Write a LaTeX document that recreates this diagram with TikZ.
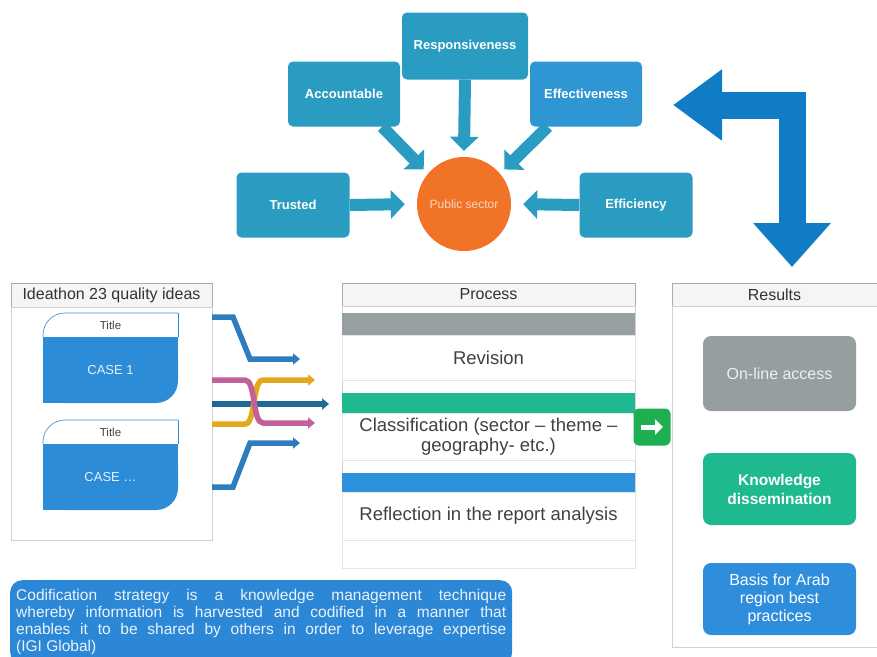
\documentclass[tikz,border=0pt]{standalone}
\usepackage{fontspec}
\setmainfont{Liberation Sans}
\usetikzlibrary{arrows.meta}

\definecolor{topblue}{RGB}{42,156,194}
\definecolor{effblue}{RGB}{47,150,212}
\definecolor{psorange}{RGB}{240,115,40}
\definecolor{pstext}{RGB}{252,215,190}
\definecolor{bigblue}{RGB}{16,124,198}
\definecolor{casefill}{RGB}{45,140,215}
\definecolor{sblue}{RGB}{45,125,190}
\definecolor{spink}{RGB}{195,95,155}
\definecolor{sgold}{RGB}{228,168,26}
\definecolor{sdark}{RGB}{30,105,150}
\definecolor{procgray}{RGB}{150,160,160}
\definecolor{procteal}{RGB}{30,185,145}
\definecolor{procblue}{RGB}{45,145,220}
\definecolor{gobtn}{RGB}{30,175,80}
\definecolor{resgray}{RGB}{150,158,160}
\definecolor{resgreen}{RGB}{30,185,142}
\definecolor{resblue}{RGB}{46,142,220}
\definecolor{noteblue}{RGB}{45,135,215}

\begin{document}
\begin{tikzpicture}[x=1pt,y=-1pt,
  pillar/.style={fill=topblue, rounded corners=5pt, text=white, inner sep=0pt,
    font=\fontsize{13}{15}\selectfont\bfseries, minimum width=112pt, minimum height=65pt},
  feed/.style={draw=topblue, line width=12pt, -{Triangle[length=14pt,width=28pt]}},
  strand/.style={line width=5.5pt, -{Triangle[length=7pt,width=11pt]}},
  head/.style={draw=gray!65, fill=black!4, text=black!80, inner sep=0pt,
    font=\fontsize{16}{18}\selectfont},
  panelbox/.style={draw=gray!35, inner sep=0pt},
  bar/.style={minimum width=293pt, inner sep=0pt},
  cell/.style={draw=gray!20, minimum width=293pt, inner sep=0pt, align=center,
    text=black!75, font=\fontsize{18.5}{20}\selectfont},
  outcome/.style={rounded corners=8pt, minimum width=153pt, inner sep=0pt,
    align=center, font=\fontsize{16}{18}\selectfont}
]
\useasboundingbox (0,0) rectangle (877,656);

% governance boxes
\node[pillar, minimum width=126pt, minimum height=67pt] (resp) at (465,46) {Responsiveness};
\node[pillar] (acc) at (344,94) {Accountable};
\node[pillar, fill=effblue] (eff) at (586,94) {Effectiveness};
\node[pillar, minimum width=113pt] (trust) at (293,205) {Trusted};
\node[pillar, minimum width=113pt] (effic) at (636,205) {Efficiency};
\node[circle, fill=psorange, minimum size=94pt, inner sep=0pt, text=pstext,
  font=\fontsize{12}{14}\selectfont] (ps) at (464,204) {Public sector};

\draw[feed] (resp.south) -- ([yshift=6pt]ps.north);
\draw[feed, shorten >=6pt] ([xshift=-18pt]acc.south east) -- (ps.140);
\draw[feed, shorten >=6pt] ([xshift=18pt]eff.south west) -- (ps.40);
\draw[feed, shorten >=12pt] (trust.east) -- (ps.west);
\draw[feed, shorten >=12pt] (effic.west) -- (ps.east);

% big return arrow
\coordinate (bl) at (673,105);
\coordinate (bc) at (792,105);
\coordinate (bd) at (792,267);
\draw[bigblue, line width=27pt, line join=miter,
  {Triangle[length=49pt,width=68pt]}-{Triangle[length=44pt,width=75pt]}] (bl) -- (bc) -- (bd);

% ideas panel
\node[head, minimum width=201pt, minimum height=24pt] (ideas) at (111.5,295) {Ideathon 23 quality ideas};
\node[panelbox, anchor=north, minimum width=201pt, minimum height=233pt] (ideabody) at (ideas.south) {};

\foreach \y/\t [count=\i] in {0/{CASE 1}, 107/{CASE \ldots}}{
  \fill[casefill, rounded corners=22pt] (43,337+\y) rectangle (178,403+\y);
  \fill[casefill] (43,337+\y) rectangle (150,403+\y);
  \fill[casefill] (43,337+\y) rectangle (178,378+\y);
  \draw[casefill, semithick, rounded corners=22pt] (43,337+\y) -- (43,313+\y) -- (178,313+\y);
  \draw[casefill, semithick] (178,313+\y) -- (178,337+\y);
  \node[text=black!75, font=\fontsize{11.5}{13}\selectfont] (title\i) at (110.5,325+\y) {Title};
  \node[text=white!88!casefill, font=\fontsize{13}{15}\selectfont] (case\i) at (110.5,370+\y) {\t};
}

% strands
\coordinate (s1) at (212,317);
\coordinate (s2) at (212,380);
\coordinate (s3) at (212,404);
\coordinate (s4) at (212,424);
\coordinate (s5) at (212,487);
\coordinate (t1) at (300,359);
\coordinate (t2) at (315,423);
\coordinate (t3) at (329,404);
\coordinate (t4) at (315,380);
\coordinate (t5) at (300,443);
\draw[strand, sblue] (s1) -- (233,317) -- (250,359) -- (t1);
\draw[strand, sblue] (s5) -- (233,487) -- (250,443) -- (t5);
\draw[strand, sdark] (s3) -- (t3);
\draw[strand, sgold] (s4) -- (245,424) .. controls (256,424) and (252,380) .. (263,380) -- (t4);
\draw[strand, spink] (s2) -- (245,380) .. controls (256,380) and (252,423) .. (263,423) -- (t2);

% process panel
\node[head, minimum width=293pt, minimum height=23pt] (proc) at (488.5,294.5) {Process};
\node[panelbox, anchor=north, minimum width=293pt, minimum height=262pt] (procbody) at (proc.south) {};
\node[bar, fill=procgray, minimum height=22pt] (bar1) at (488.5,324) {};
\node[cell, minimum height=45pt] (rev) at (488.5,357.5) {Revision};
\node[bar, fill=procteal, minimum height=20pt] (bar2) at (488.5,403) {};
\node[cell, minimum height=47pt] (cls) at (488.5,436.5) {Classification (sector -- theme --\\geography- etc.)};
\node[bar, fill=procblue, minimum height=19pt] (bar3) at (488.5,482.5) {};
\node[cell, minimum height=48pt] (refl) at (488.5,516) {Reflection in the report analysis};
\node[cell, minimum height=28pt] (spare) at (488.5,554) {};

\node[fill=gobtn, rounded corners=5pt, minimum size=37pt, inner sep=0pt] (go) at (652,427) {};
\draw[white, line width=5pt, -{Triangle[length=8pt,width=15pt]}] ([xshift=-11pt]go.center) -- ([xshift=11pt]go.center);

% results panel
\node[head, minimum width=205pt, minimum height=23pt] (res) at (774.5,294.5) {Results};
\node[panelbox, anchor=north, minimum width=205pt, minimum height=341pt] (resbody) at (res.south) {};
\node[outcome, fill=resgray, text=white!85!resgray, minimum height=75pt] (online) at (779.5,373.5) {On-line access};
\node[outcome, fill=resgreen, text=white, minimum height=72pt, font=\fontsize{15.5}{19}\selectfont\bfseries] (know) at (779.5,489) {Knowledge\\dissemination};
\node[outcome, fill=resblue, text=white, minimum height=72pt, font=\fontsize{16}{18}\selectfont] (basis) at (779.5,599) {Basis for Arab\\region best\\practices};

% note
\node[fill=noteblue, rounded corners=12pt, anchor=north west, text=white!90!noteblue,
  text width=490pt, align=justify, inner xsep=6pt, inner ysep=4pt, minimum height=84pt,
  font=\fontsize{15.5}{17}\selectfont] (note) at (10,580)
  {Codification strategy is a knowledge management technique\linebreak
   whereby information is harvested and codified in a manner that\linebreak
   enables it to be shared by others in order to leverage expertise\linebreak
   (IGI Global)};
\end{tikzpicture}
\end{document}
